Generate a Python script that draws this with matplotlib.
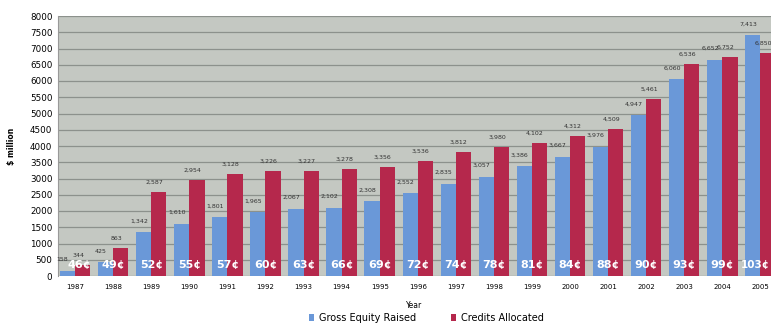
import matplotlib
matplotlib.use("Agg")
import matplotlib.pyplot as plt
import numpy as np

years = [str(y) for y in range(1987, 2006)]
gross_equity = [158, 425, 1342, 1610, 1801, 1965, 2067, 2102, 2308, 2552, 2835,
                3057, 3386, 3667, 3976, 4947, 6060, 6652, 7413]
credits_alloc = [344, 863, 2587, 2954, 3128, 3226, 3227, 3278, 3356, 3536, 3812,
                 3980, 4102, 4312, 4509, 5461, 6536, 6752, 6850]
cents = ["46¢", "49¢", "52¢", "55¢", "57¢", "60¢", "63¢", "66¢", "69¢", "72¢",
         "74¢", "78¢", "81¢", "84¢", "88¢", "90¢", "93¢", "99¢", "103¢"]
yticks = list(range(0, 8001, 500))

blue = "#6a98d8"
red = "#b5284c"
bg = "#c4c8c2"

W, H = 771, 328
fig = plt.figure(figsize=(W / 100, H / 100), dpi=100)
ax = fig.add_axes([58 / W, 1 - 276 / H, 1 - 58 / W, (276 - 16) / H])
ax.set_facecolor(bg)

x = np.arange(len(years))
bw = 0.4
ax.bar(x - bw / 2, gross_equity, bw, color=blue, label="Gross Equity Raised", zorder=2)
ax.bar(x + bw / 2, credits_alloc, bw, color=red, label="Credits Allocated", zorder=2)

n = len(years)
for i in range(n):
    gx = x[i] - 0.35 if i == 0 else x[i] - bw / 2 - 0.12
    ax.annotate(f"{gross_equity[i]:,}", (gx, gross_equity[i]),
                xytext=(0, 8), textcoords="offset points",
                ha="center", va="center", fontsize=4.5, color="#333333", zorder=4)
    ax.annotate(f"{credits_alloc[i]:,}", (x[i] + bw / 2 - 0.12, credits_alloc[i]),
                xytext=(0, 7), textcoords="offset points", ha="center", va="center",
                fontsize=4.5, color="#333333", zorder=4)
    if i == 0:
        cx, fs = x[i] + 0.12, 8
    elif i == n - 1:
        cx, fs = x[i] - 0.12, 7.5
    else:
        cx, fs = x[i], 8
    ax.text(cx, 330, cents[i], ha="center", va="center", fontsize=fs,
            fontweight="bold", color="white", zorder=5)

ax.set_ylim(0, 8000)
ax.set_xlim(-0.45, 18.28)
ax.set_yticks(yticks)
ax.set_yticklabels([str(v) for v in yticks], fontsize=6.3)
ax.set_xticks(x)
ax.set_xticklabels(years, fontsize=5)
ax.tick_params(axis="both", length=0, pad=6)
ax.tick_params(axis="y", pad=4)
ax.grid(axis="y", color="#8c918c", linewidth=0.9, zorder=1)
ax.set_axisbelow(True)
for s in ["top", "right", "bottom"]:
    ax.spines[s].set_visible(False)
ax.spines["left"].set_color("#999999")

ax.set_ylabel("$ million", fontsize=5.5, fontweight="bold", labelpad=10)
ax.set_xlabel("Year", fontsize=5.5, labelpad=8)

leg = fig.legend(loc="center", bbox_to_anchor=(0.553, 1 - 318 / H), ncol=2,
                 frameon=False, fontsize=7, handlelength=0.6, handleheight=0.6,
                 handletextpad=0.5, columnspacing=3.5)

fig.savefig("out.png", dpi=100, facecolor="white")
